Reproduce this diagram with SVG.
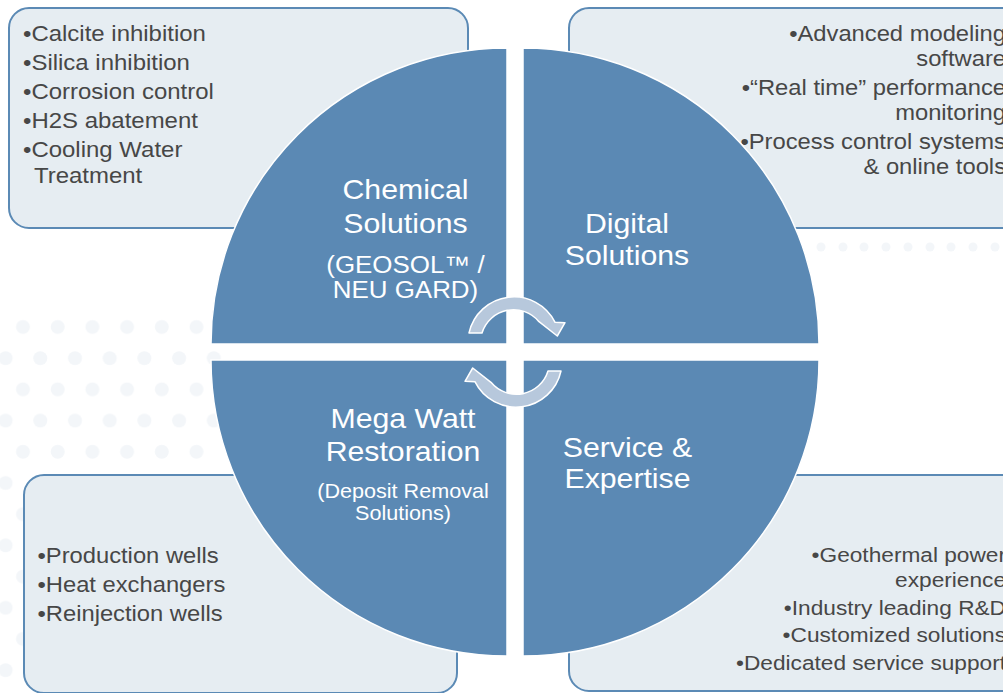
<svg xmlns="http://www.w3.org/2000/svg" width="1003" height="693" viewBox="0 0 1003 693">
  <style>
    .box { fill: #e6edf2; stroke: #5b8ab5; stroke-width: 2; }
    .quad { fill: #5b89b4; stroke: #ffffff; stroke-width: 1.5; }
    .body { font-family: "Liberation Sans", Arial, sans-serif; font-size: 22px; fill: #474747; }
    .small { font-size: 21px; }
    .title { font-family: "Liberation Sans", Arial, sans-serif; font-size: 28px; fill: #ffffff; text-anchor: middle; }
    .sub { font-size: 24px; }
    .sub2 { font-size: 20px; }
    .end { text-anchor: end; }
    .dot { fill: #f3f6f9; }
    .carrow { fill: #b7c8dc; stroke: #ffffff; stroke-width: 1.5; stroke-linejoin: round; }
  </style>
  <defs>
    <pattern id="dots" patternUnits="userSpaceOnUse" x="14.3" y="311.4" width="34.7" height="62.4">
      <circle cx="8.7" cy="15.6" r="7" class="dot"/>
      <circle cx="26" cy="46.8" r="7" class="dot"/>
    </pattern>
  </defs>
  <rect width="1003" height="693" fill="#ffffff"/>
  <g id="background-dots">
    <rect x="0" y="312" width="222" height="381" fill="url(#dots)"/>
    <g class="dot">
      <circle cx="821" cy="247" r="4.5"/><circle cx="843" cy="247" r="4.5"/><circle cx="864" cy="247" r="4.5"/>
      <circle cx="886" cy="247" r="4.5"/><circle cx="908" cy="247" r="4.5"/><circle cx="930" cy="247" r="4.5"/>
      <circle cx="951" cy="247" r="4.5"/><circle cx="973" cy="247" r="4.5"/><circle cx="995" cy="247" r="4.5"/>
    </g>
  </g>

  <g id="box-chemical">
    <rect class="box" x="9" y="8" width="459" height="220" rx="20"/>
    <g class="body" transform="translate(23,0) scale(1.09,1)">
      <text x="0" y="41">•Calcite inhibition</text>
      <text x="0" y="70">•Silica inhibition</text>
      <text x="0" y="99">•Corrosion control</text>
      <text x="0" y="128">•H2S abatement</text>
      <text x="0" y="157">•Cooling Water</text>
      <text x="10" y="183">Treatment</text>
    </g>
  </g>

  <g id="box-digital">
    <rect class="box" x="569" y="8" width="460" height="220" rx="20"/>
    <g class="body end" transform="translate(1006,0) scale(1.08,1)">
      <text x="0" y="41">•Advanced modeling</text>
      <text x="0" y="66">software</text>
      <text x="0" y="95">•“Real time” performance</text>
      <text x="0" y="120">monitoring</text>
      <text x="0" y="149">•Process control systems</text>
      <text x="0" y="174">&amp; online tools</text>
    </g>
  </g>

  <g id="box-megawatt">
    <rect class="box" x="24" y="475" width="433" height="218" rx="20"/>
    <g class="body" transform="translate(37.5,0) scale(1.08,1)">
      <text x="0" y="563">•Production wells</text>
      <text x="0" y="592.5">•Heat exchangers</text>
      <text x="0" y="621.5">•Reinjection wells</text>
    </g>
  </g>

  <g id="box-service">
    <rect class="box" x="569" y="475" width="460" height="216" rx="20"/>
    <g class="body small end" transform="translate(1006,0) scale(1.08,1)">
      <text x="0" y="562">•Geothermal power</text>
      <text x="0" y="587">experience</text>
      <text x="0" y="615">•Industry leading R&amp;D</text>
      <text x="0" y="642">•Customized solutions</text>
      <text x="0" y="670">•Dedicated service support</text>
    </g>
  </g>

  <g id="quad-chemical">
    <path class="quad" d="M507,344 L211,344 A296,296 0 0 1 507,48 Z"/>
    <g class="title" transform="translate(405.5,0) scale(1.08,1)">
      <text x="0" y="199.5">Chemical</text>
      <text x="0" y="233">Solutions</text>
      <text x="0" y="273" class="sub">(GEOSOL™ /</text>
      <text x="0" y="298" class="sub">NEU GARD)</text>
    </g>
  </g>

  <g id="quad-digital">
    <path class="quad" d="M523,344 L523,48 A296,296 0 0 1 819,344 Z"/>
    <g class="title" transform="translate(627,0) scale(1.08,1)">
      <text x="0" y="233.5">Digital</text>
      <text x="0" y="265">Solutions</text>
    </g>
  </g>

  <g id="quad-service">
    <path class="quad" d="M523,360 L819,360 A296,296 0 0 1 523,656 Z"/>
    <g class="title" transform="translate(627.5,0) scale(1.08,1)">
      <text x="0" y="457">Service &amp;</text>
      <text x="0" y="488.5">Expertise</text>
    </g>
  </g>

  <g id="quad-megawatt">
    <path class="quad" d="M507,360 L507,656 A296,296 0 0 1 211,360 Z"/>
    <g class="title" transform="translate(403,0) scale(1.08,1)">
      <text x="0" y="428.5">Mega Watt</text>
      <text x="0" y="461">Restoration</text>
      <text x="0" y="498.5" class="sub2">(Deposit Removal</text>
      <text x="0" y="520" class="sub2">Solutions)</text>
    </g>
  </g>

  <g id="connectors">
    <path class="carrow" d="M469,333 A46,46 0 0 1 555.1,322.3 L565,322.7 L557.3,336 L539,321.7 A33,33 0 0 0 482,333 Z"/>
    <path class="carrow" transform="rotate(180 515 352)" d="M469,333 A46,46 0 0 1 555.1,322.3 L565,322.7 L557.3,336 L539,321.7 A33,33 0 0 0 482,333 Z"/>
  </g>
</svg>
